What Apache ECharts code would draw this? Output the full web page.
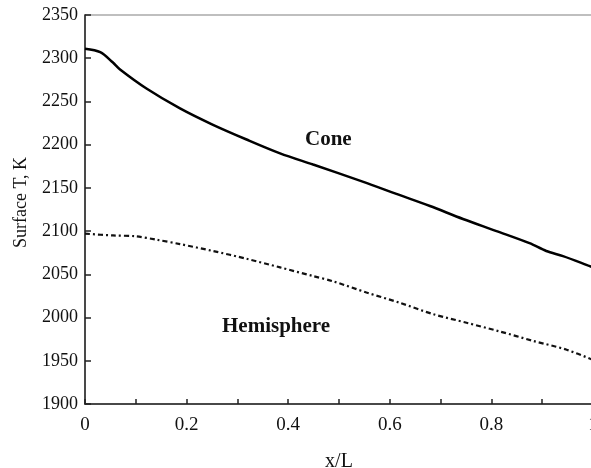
<!DOCTYPE html>
<html lang="en">
<head>
    <meta charset="UTF-8">
    <title>Surface T, K</title>
</head>
<body style="margin:0">
<div id="main" style="width: 591px;height:468px;"></div>
<script type="text/javascript" src="https://cdn.jsdelivr.net/npm/echarts@6/dist/echarts.min.js"></script>
<script type="text/javascript">
    // x/L positions and surface temperature
    var xCone = [0, 0.03, 0.055, 0.069, 0.121, 0.187, 0.252, 0.318, 0.384, 0.449, 0.548, 0.613, 0.679, 0.744, 0.81, 0.875, 0.908, 0.941, 0.987, 1.0];
    var tCone = [2311, 2307, 2295, 2287, 2265, 2242, 2223, 2206, 2190, 2177, 2157, 2143, 2129, 2114, 2100, 2086, 2077, 2071, 2061, 2058];
    var xHemi = [0, 0.055, 0.1, 0.141, 0.187, 0.252, 0.318, 0.384, 0.449, 0.488, 0.554, 0.62, 0.685, 0.751, 0.816, 0.882, 0.947, 1.0];
    var tHemi = [2097, 2095, 2094, 2090, 2085, 2077, 2068, 2058, 2048, 2042, 2029, 2017, 2004, 1994, 1984, 1973, 1963, 1951];

    function pairs(xs, ys) {
        return xs.map(function (x, i) { return [x, ys[i]]; });
    }

    var font = 'Liberation Serif';
    var myChart = echarts.init(document.getElementById('main'));
    var option = {
        animation: false,
        grid: {
            left: 85, top: 15, right: -2, bottom: 64,
            show: true, borderColor: '#aaa', borderWidth: 1.5,
            outerBoundsMode: 'none'
        },
        xAxis: {
            type: 'value',
            min: 0, max: 1, interval: 0.1,
            name: 'x/L',
            nameLocation: 'middle',
            nameGap: 48,
            nameTextStyle: {fontFamily: font, fontSize: 20, color: '#111'},
            axisLine: {lineStyle: {color: '#222', width: 1.5}},
            axisTick: {inside: true, length: 5, lineStyle: {color: '#222', width: 1.5}},
            axisLabel: {
                fontFamily: font, fontSize: 19, color: '#111', margin: 12,
                formatter: function (v) {
                    var k = Math.round(v * 10);
                    if (k % 2 !== 0) return '';
                    return k === 0 ? '0' : (k === 10 ? '1' : (k / 10).toFixed(1));
                }
            },
            splitLine: {show: false}
        },
        yAxis: {
            type: 'value',
            min: 1900, max: 2350, interval: 50,
            name: 'Surface T, K',
            nameLocation: 'middle',
            nameGap: 55,
            nameTextStyle: {fontFamily: font, fontSize: 18, color: '#111', padding: [0, 0, 0, 14]},
            axisLine: {lineStyle: {color: '#222', width: 1.5}},
            axisTick: {inside: true, length: 6, lineStyle: {color: '#222', width: 1.5}},
            axisLabel: {
                fontFamily: font, fontSize: 18, color: '#111', margin: 7,
                formatter: function (v) { return String(v); }
            },
            splitLine: {show: false}
        },
        graphic: [
            {type: 'text', left: 305, top: 129, style: {text: 'Cone', font: 'bold 21px "Liberation Serif"', fill: '#111'}},
            {type: 'text', left: 222, top: 316, style: {text: 'Hemisphere', font: 'bold 21px "Liberation Serif"', fill: '#111'}}
        ],
        series: [{
            name: 'Cone',
            type: 'line',
            data: pairs(xCone, tCone),
            smooth: 0.3,
            showSymbol: false,
            lineStyle: {color: '#000', width: 2.5}
        }, {
            name: 'Hemisphere',
            type: 'line',
            data: pairs(xHemi, tHemi),
            smooth: 0.3,
            showSymbol: false,
            lineStyle: {color: '#111', width: 2.2, type: [5, 3, 2, 3]}
        }]
    };
    myChart.setOption(option);
</script>
</body>
</html>
